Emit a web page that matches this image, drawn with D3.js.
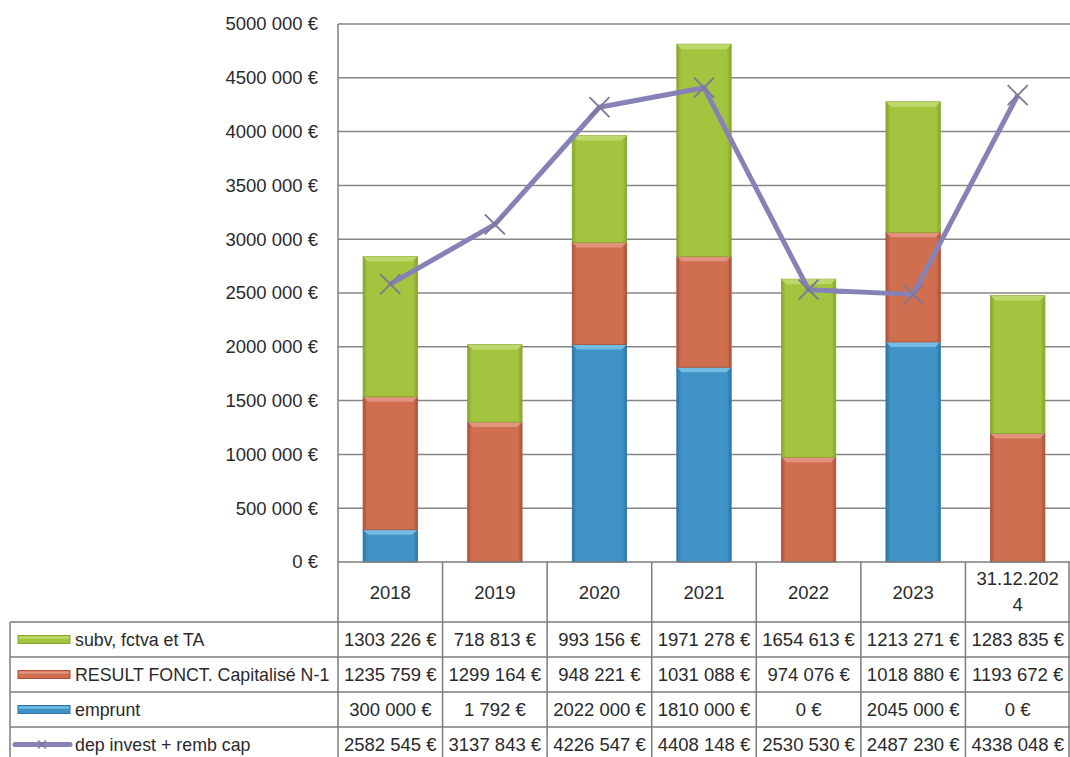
<!DOCTYPE html>
<html>
<head>
<meta charset="utf-8">
<script src="https://cdn.jsdelivr.net/npm/d3@7"></script>
<style>
  body { margin: 0; background: #fff; }
  svg { display: block; font-family: "Liberation Sans", Arial, sans-serif; }
</style>
</head>
<body>
<div class="chart"></div>
<script>
// categories and series
var years = ["2018", "2019", "2020", "2021", "2022", "2023", "31.12.2024"];
var subv = [1303226, 718813, 993156, 1971278, 1654613, 1213271, 1283835];
var resultFonct = [1235759, 1299164, 948221, 1031088, 974076, 1018880, 1193672];
var emprunt = [300000, 1792, 2022000, 1810000, 0, 2045000, 0];
var depInvest = [2582545, 3137843, 4226547, 4408148, 2530530, 2487230, 4338048];
var yTicks = [0, 500000, 1000000, 1500000, 2000000, 2500000, 3000000, 3500000, 4000000, 4500000, 5000000];
var seriesNames = ["subv, fctva et TA", "RESULT FONCT. Capitalisé N-1", "emprunt", "dep invest + remb cap"];

var svgWidth = 1070, svgHeight = 757;
var plot = { left: 338, right: 1070, top: 24, bottom: 562 };
var headerH = 60, rowH = 35, tableLeft = 10;
var numSize = "18.5px", labelSize = "17.8px", textColor = "#2a2a2a";

// euro formatting like the sheet: "1303 226 €", "1 792 €", "0 €"
function euro(v) {
  if (v < 1000) return v + " €";
  var rest = v % 1000;
  return Math.floor(v / 1000) + " " + String(rest).padStart(3, "0") + " €";
}

var svg = d3.select(".chart").append("svg")
  .attr("width", svgWidth)
  .attr("height", svgHeight);

var x = d3.scaleBand().domain(years).range([plot.left, plot.right]).padding(0);
var y = d3.scaleLinear().domain([0, 5000000]).range([plot.bottom, plot.top]);
var barW = x.bandwidth() * 0.52;

var colors = {
  subv: { base: "#a3c43e", dark: "#86a52c", light: "#c4dc74" },
  result: { base: "#cf6f4f", dark: "#ab5138", light: "#e59a86" },
  emprunt: { base: "#3f93c7", dark: "#2c74a3", light: "#7dc3e8" }
};
var lineColor = "#8682b8";

// gradients for the bevel look
var defs = svg.append("defs");
Object.keys(colors).forEach(function(k) {
  var g = defs.append("linearGradient").attr("id", "grad-" + k)
    .attr("x1", "0").attr("x2", "1").attr("y1", "0").attr("y2", "0");
  g.append("stop").attr("offset", "0").attr("stop-color", colors[k].dark);
  g.append("stop").attr("offset", "0.08").attr("stop-color", colors[k].base);
  g.append("stop").attr("offset", "0.92").attr("stop-color", colors[k].base);
  g.append("stop").attr("offset", "1").attr("stop-color", colors[k].dark);
});

// gridlines
svg.append("g").selectAll("line")
  .data(yTicks.filter(function(d) { return d > 0; }))
  .enter().append("line")
  .attr("x1", plot.left).attr("x2", plot.right)
  .attr("y1", function(d) { return y(d); })
  .attr("y2", function(d) { return y(d); })
  .attr("stroke", "#868686").attr("stroke-width", 1.5);

// y labels
svg.append("g").selectAll("text")
  .data(yTicks)
  .enter().append("text")
  .attr("x", 318)
  .attr("y", function(d) { return y(d); })
  .attr("dy", "0.35em")
  .attr("text-anchor", "end")
  .style("font-size", numSize)
  .style("fill", textColor)
  .text(function(d) { return euro(d); });

// stacked bars
var stackData = years.map(function(yr, i) {
  return { year: yr, emprunt: emprunt[i], result: resultFonct[i], subv: subv[i] };
});
var stack = d3.stack().keys(["emprunt", "result", "subv"]);
var layers = stack(stackData);

var bars = svg.append("g");
layers.forEach(function(layer) {
  var key = layer.key;
  var g = bars.append("g");
  var segs = g.selectAll("g").data(layer.filter(function(d) { return d[1] - d[0] > 0; }))
    .enter().append("g");
  segs.append("rect")
    .attr("x", function(d) { return x(d.data.year) + (x.bandwidth() - barW) / 2; })
    .attr("y", function(d) { return y(d[1]); })
    .attr("width", barW)
    .attr("height", function(d) { return y(d[0]) - y(d[1]); })
    .attr("fill", "url(#grad-" + key + ")")
    .attr("stroke", colors[key].dark)
    .attr("stroke-width", 0.8);
  segs.append("polygon")
    .attr("points", function(d) {
      var x0 = x(d.data.year) + (x.bandwidth() - barW) / 2, y0 = y(d[1]);
      var h = Math.min(5, (y(d[0]) - y(d[1])) / 2);
      return [[x0, y0], [x0 + barW, y0], [x0 + barW - h, y0 + h], [x0 + h, y0 + h]].join(" ");
    })
    .attr("fill", colors[key].light)
    .attr("opacity", 0.85);
});

// line series
var line = d3.line()
  .x(function(d, i) { return x(years[i]) + x.bandwidth() / 2; })
  .y(function(d) { return y(d); });

svg.append("path")
  .datum(depInvest)
  .attr("d", line)
  .attr("fill", "none")
  .attr("stroke", lineColor)
  .attr("stroke-width", 5)
  .attr("stroke-linejoin", "round");

var m = 10;
svg.append("g").selectAll("path")
  .data(depInvest)
  .enter().append("path")
  .attr("d", function(d, i) {
    var cx = x(years[i]) + x.bandwidth() / 2, cy = y(d);
    return "M" + (cx - m) + "," + (cy - m) + "L" + (cx + m) + "," + (cy + m) +
      "M" + (cx - m) + "," + (cy + m) + "L" + (cx + m) + "," + (cy - m);
  })
  .attr("stroke", "#7b7896")
  .attr("stroke-width", 1.8)
  .attr("fill", "none");

// data table
var table = svg.append("g");
var rowTop = plot.bottom + headerH;
var tableBottom = rowTop + rowH * 4;
var gridColor = "#7d7d7d";

// horizontal borders
table.append("line")
  .attr("x1", plot.left).attr("x2", plot.right)
  .attr("y1", plot.bottom).attr("y2", plot.bottom)
  .attr("stroke", gridColor).attr("stroke-width", 1.5);
d3.range(4).forEach(function(r) {
  table.append("line")
    .attr("x1", tableLeft).attr("x2", plot.right)
    .attr("y1", rowTop + r * rowH).attr("y2", rowTop + r * rowH)
    .attr("stroke", gridColor).attr("stroke-width", 1.5);
});
table.append("line")
  .attr("x1", tableLeft).attr("x2", plot.right)
  .attr("y1", tableBottom).attr("y2", tableBottom)
  .attr("stroke", gridColor).attr("stroke-width", 1.5);

// vertical borders
table.append("line")
  .attr("x1", plot.left).attr("x2", plot.left)
  .attr("y1", plot.top).attr("y2", svgHeight)
  .attr("stroke", gridColor).attr("stroke-width", 1.5);
table.append("line")
  .attr("x1", tableLeft).attr("x2", tableLeft)
  .attr("y1", rowTop).attr("y2", svgHeight)
  .attr("stroke", gridColor).attr("stroke-width", 1.5);
years.forEach(function(yr) {
  var xr = Math.min(x(yr) + x.bandwidth(), svgWidth - 1);
  table.append("line")
    .attr("x1", xr).attr("x2", xr)
    .attr("y1", plot.bottom).attr("y2", svgHeight)
    .attr("stroke", gridColor).attr("stroke-width", 1.5);
});

// header labels (category axis)
years.forEach(function(yr) {
  var cx = x(yr) + x.bandwidth() / 2;
  var t = table.append("text")
    .attr("x", cx)
    .attr("text-anchor", "middle")
    .style("font-size", numSize)
    .style("fill", textColor);
  if (yr.length > 6) {
    t.append("tspan").attr("x", cx).attr("y", plot.bottom + 23).text(yr.slice(0, 9));
    t.append("tspan").attr("x", cx).attr("y", plot.bottom + 49).text(yr.slice(9));
  } else {
    t.attr("y", plot.bottom + 37).text(yr);
  }
});

// rows
var rows = [subv, resultFonct, emprunt, depInvest];
rows.forEach(function(vals, r) {
  var cy = rowTop + r * rowH + rowH / 2;
  vals.forEach(function(v, i) {
    table.append("text")
      .attr("x", x(years[i]) + x.bandwidth() / 2)
      .attr("y", cy)
      .attr("dy", "0.36em")
      .attr("text-anchor", "middle")
      .style("font-size", numSize)
      .style("fill", textColor)
      .text(euro(v));
  });
  table.append("text")
    .attr("x", 75)
    .attr("y", cy)
    .attr("dy", "0.36em")
    .style("font-size", labelSize)
    .style("fill", textColor)
    .text(seriesNames[r]);
});

// legend keys
var keyList = ["subv", "result", "emprunt"];
keyList.forEach(function(k, r) {
  var cy = rowTop + r * rowH + rowH / 2;
  table.append("rect")
    .attr("x", 18).attr("y", cy - 4)
    .attr("width", 52).attr("height", 8)
    .attr("fill", colors[k].base)
    .attr("stroke", colors[k].dark)
    .attr("stroke-width", 1);
  table.append("rect")
    .attr("x", 19).attr("y", cy - 3)
    .attr("width", 50).attr("height", 2)
    .attr("fill", colors[k].light);
});
var ly = rowTop + 3 * rowH + rowH / 2;
table.append("line")
  .attr("x1", 15).attr("x2", 70)
  .attr("y1", ly).attr("y2", ly)
  .attr("stroke", lineColor).attr("stroke-width", 5)
  .attr("stroke-linecap", "round");
table.append("path")
  .attr("d", "M38," + (ly - 4) + "L46," + (ly + 4) + "M38," + (ly + 4) + "L46," + (ly - 4))
  .attr("stroke", "#7b7896").attr("stroke-width", 1.5);
</script>
</body>
</html>
